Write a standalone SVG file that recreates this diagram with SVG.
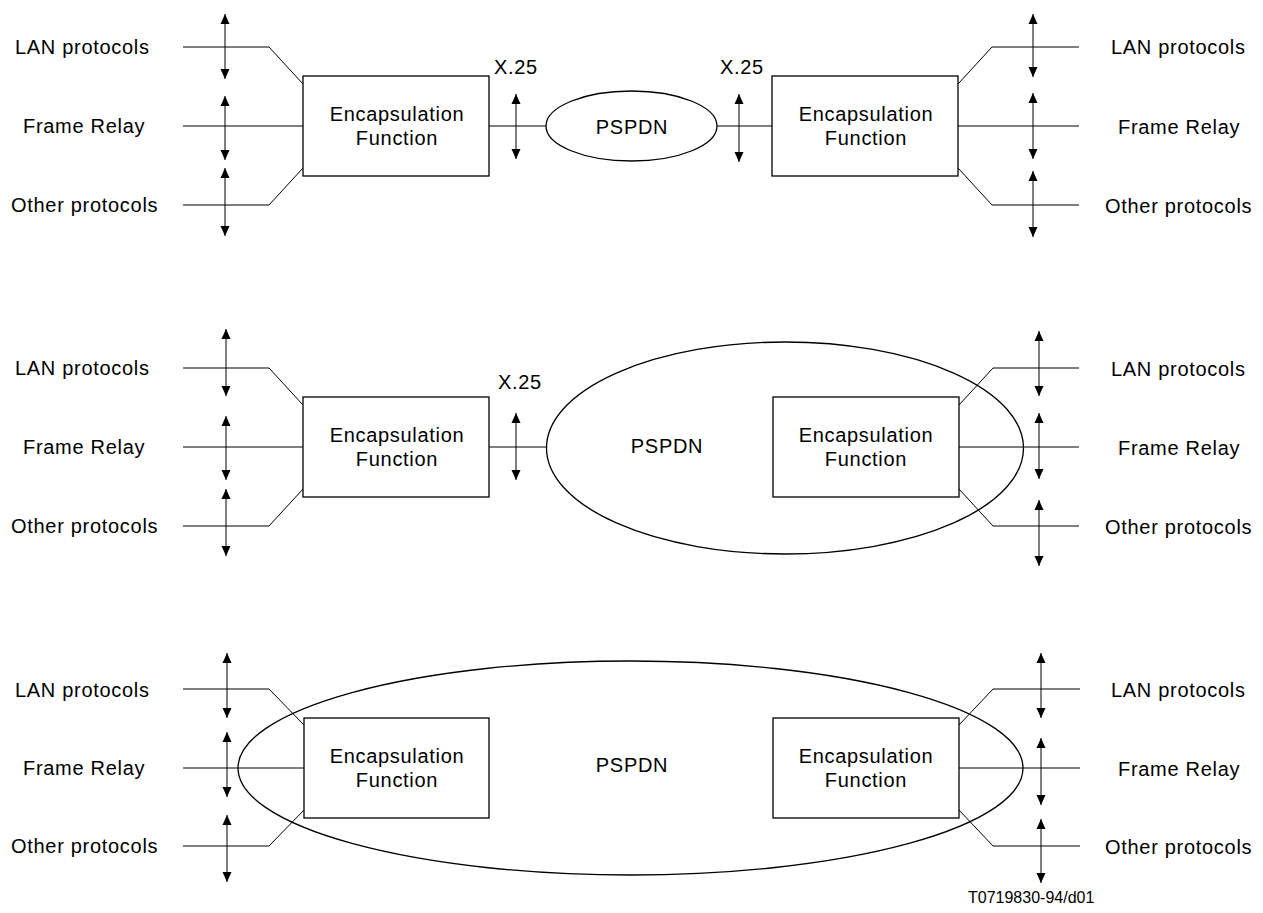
<svg xmlns="http://www.w3.org/2000/svg" width="1263" height="913" viewBox="0 0 1263 913">
<style>
text{font-family:"Liberation Sans",Arial,sans-serif;font-size:20px;letter-spacing:0.7px;fill:#000}
.c{text-anchor:middle}
.cap{font-size:16px;letter-spacing:0}
.box{fill:#fff;stroke:#000;stroke-width:1.3}
.ell{fill:none;stroke:#000;stroke-width:1.3}
.ln{fill:none;stroke:#000;stroke-width:1}
.ar{fill:none;stroke:#000;stroke-width:1;marker-start:url(#ah);marker-end:url(#ah)}
</style>
<defs>
<marker id="ah" viewBox="0 0 10 10" refX="10" refY="5" markerWidth="10" markerHeight="10" markerUnits="userSpaceOnUse" orient="auto-start-reverse">
<path d="M0,0.5 L10,5 L0,9.5 z" fill="#000"/>
</marker>
</defs>
<rect width="1263" height="913" fill="#fff"/>

<!-- Networks (ellipses) -->
<g id="pspdn1"><ellipse class="ell" cx="631.5" cy="126" rx="85.5" ry="35"/><text class="c" x="632" y="134">PSPDN</text></g>
<g id="pspdn2"><ellipse class="ell" cx="785" cy="448" rx="238.5" ry="106"/><text class="c" x="667" y="453">PSPDN</text></g>
<g id="pspdn3"><ellipse class="ell" cx="630.5" cy="768" rx="392.5" ry="107"/><text class="c" x="632" y="772">PSPDN</text></g>

<!-- Connectors -->
<g id="connectors">
<!-- panel 1 -->
<polyline class="ln" points="183,47 269,47 303,84"/>
<line class="ln" x1="183" y1="126" x2="303" y2="126"/>
<polyline class="ln" points="183,205 269,205 303,168"/>
<polyline class="ln" points="958,84 992,47 1079,47"/>
<line class="ln" x1="958" y1="126" x2="1079" y2="126"/>
<polyline class="ln" points="958,168 992,205 1079,205"/>
<line class="ln" x1="489" y1="126" x2="546" y2="126"/>
<line class="ln" x1="717" y1="126" x2="772" y2="126"/>
<line class="ar" x1="225" y1="14" x2="225" y2="79"/>
<line class="ar" x1="225" y1="96" x2="225" y2="160"/>
<line class="ar" x1="225" y1="168" x2="225" y2="236"/>
<line class="ar" x1="1033" y1="14" x2="1033" y2="77"/>
<line class="ar" x1="1033" y1="93" x2="1033" y2="159"/>
<line class="ar" x1="1033" y1="171" x2="1033" y2="237"/>
<line class="ar" x1="516" y1="94" x2="516" y2="159"/>
<line class="ar" x1="739" y1="94" x2="739" y2="162"/>
<!-- panel 2 -->
<polyline class="ln" points="183,368 269,368 303,405"/>
<line class="ln" x1="183" y1="447" x2="303" y2="447"/>
<polyline class="ln" points="183,526 269,526 303,489"/>
<polyline class="ln" points="959,405 993,368 1079,368"/>
<line class="ln" x1="959" y1="447" x2="1079" y2="447"/>
<polyline class="ln" points="959,489 993,526 1079,526"/>
<line class="ln" x1="489" y1="447" x2="546.5" y2="447"/>
<line class="ar" x1="226" y1="329" x2="226" y2="396"/>
<line class="ar" x1="226" y1="416" x2="226" y2="480"/>
<line class="ar" x1="226" y1="489" x2="226" y2="556"/>
<line class="ar" x1="1039" y1="331" x2="1039" y2="396"/>
<line class="ar" x1="1039" y1="413" x2="1039" y2="479"/>
<line class="ar" x1="1039" y1="500" x2="1039" y2="566"/>
<line class="ar" x1="516" y1="413" x2="516" y2="480"/>
<!-- panel 3 -->
<polyline class="ln" points="183,689 269,689 304,725"/>
<line class="ln" x1="183" y1="768" x2="304" y2="768"/>
<polyline class="ln" points="183,846 269,846 304,810"/>
<polyline class="ln" points="959,725 993,689 1080,689"/>
<line class="ln" x1="959" y1="768" x2="1080" y2="768"/>
<polyline class="ln" points="959,810 993,846 1080,846"/>
<line class="ar" x1="227" y1="653" x2="227" y2="718"/>
<line class="ar" x1="227" y1="732" x2="227" y2="797"/>
<line class="ar" x1="227" y1="815" x2="227" y2="882"/>
<line class="ar" x1="1041" y1="653" x2="1041" y2="718"/>
<line class="ar" x1="1041" y1="738" x2="1041" y2="805"/>
<line class="ar" x1="1041" y1="819" x2="1041" y2="883"/>
</g>

<!-- Encapsulation function boxes -->
<g id="enc1l"><rect class="box" x="303" y="76" width="186" height="100"/><text class="c" x="397" y="121">Encapsulation</text><text class="c" x="397" y="145">Function</text></g>
<g id="enc1r"><rect class="box" x="772" y="76" width="186" height="100"/><text class="c" x="866" y="121">Encapsulation</text><text class="c" x="866" y="145">Function</text></g>
<g id="enc2l"><rect class="box" x="303" y="397" width="186" height="100"/><text class="c" x="397" y="442">Encapsulation</text><text class="c" x="397" y="466">Function</text></g>
<g id="enc2r"><rect class="box" x="773" y="397" width="186" height="100"/><text class="c" x="866" y="442">Encapsulation</text><text class="c" x="866" y="466">Function</text></g>
<g id="enc3l"><rect class="box" x="304" y="718" width="185" height="100"/><text class="c" x="397" y="763">Encapsulation</text><text class="c" x="397" y="787">Function</text></g>
<g id="enc3r"><rect class="box" x="773" y="718" width="186" height="100"/><text class="c" x="866" y="763">Encapsulation</text><text class="c" x="866" y="787">Function</text></g>

<!-- Protocol labels -->
<g id="labels1">
<text x="15" y="54">LAN protocols</text>
<text x="23" y="133">Frame Relay</text>
<text x="11" y="212">Other protocols</text>
<text x="1111" y="54">LAN protocols</text>
<text x="1118" y="133.5">Frame Relay</text>
<text x="1105" y="212.5">Other protocols</text>
<text x="494" y="74">X.25</text>
<text x="720" y="74">X.25</text>
</g>
<g id="labels2">
<text x="15" y="375">LAN protocols</text>
<text x="23" y="454">Frame Relay</text>
<text x="11" y="533">Other protocols</text>
<text x="1111" y="375.5">LAN protocols</text>
<text x="1118" y="454.5">Frame Relay</text>
<text x="1105" y="533.5">Other protocols</text>
<text x="498" y="389">X.25</text>
</g>
<g id="labels3">
<text x="15" y="696.5">LAN protocols</text>
<text x="23" y="775">Frame Relay</text>
<text x="11" y="853">Other protocols</text>
<text x="1111" y="697">LAN protocols</text>
<text x="1118" y="775.5">Frame Relay</text>
<text x="1105" y="853.5">Other protocols</text>
</g>
<text class="cap" x="968" y="903">T0719830-94/d01</text>
</svg>
